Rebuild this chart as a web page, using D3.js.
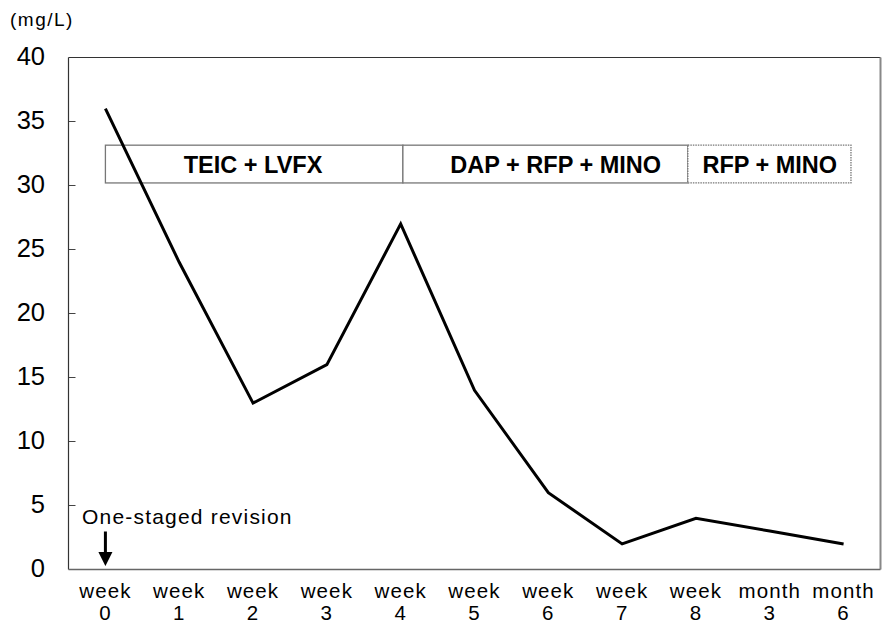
<!DOCTYPE html>
<html lang="en">
<head>
    <meta charset="UTF-8">
    <title>Serum level over time</title>
    <script src="https://d3js.org/d3.v7.min.js"></script>
    <style>
        body { margin: 0; background: #fff; }
        text { font-family: "Liberation Sans", Arial, sans-serif; fill: #000; }
        .tick-y { font-size: 25.5px; }
        .tick-x { font-size: 20.5px; letter-spacing: 1.1px; }
        .regimen { font-size: 23.5px; font-weight: bold; }
        .note { font-size: 21px; letter-spacing: 1.2px; }
        .unit { font-size: 19px; letter-spacing: 1.5px; }
    </style>
</head>
<body>
    <svg width="885" height="625"></svg>
    <script>
        // categories (two-line tick labels)
        const periods = ["week 0", "week 1", "week 2", "week 3", "week 4", "week 5",
                         "week 6", "week 7", "week 8", "month 3", "month 6"];
        const levels = [36, 24, 13, 16, 27, 14, 6, 2, 4, 3, 2];
        const yTicks = [0, 5, 10, 15, 20, 25, 30, 35, 40];

        // treatment bars: start / end in category index units, label centre
        const regimens = ["TEIC + LVFX", "DAP + RFP + MINO", "RFP + MINO"];
        const regStart = [0, 4.03, 7.89];
        const regEnd = [4.03, 7.89, 10.1];
        const regLabelAt = [2.0, 6.1, 9.0];
        const regDotted = [false, false, true];
        const regLow = 30.2, regHigh = 33.15;

        const m = { left: 68.5, right: 880.5, top: 57.5, bottom: 569.5 };

        const svg = d3.select("svg");

        const x = d3.scalePoint()
            .domain(periods)
            .range([m.left, m.right])
            .padding(0.5);
        const step = x.step();
        const xi = i => x(periods[0]) + i * step; // index -> px

        const y = d3.scaleLinear()
            .domain([0, 40])
            .range([m.bottom, m.top]);

        // y ticks (inward)
        svg.append("g")
            .selectAll("line")
            .data(yTicks.filter(d => d > 0 && d < 40))
            .enter().append("line")
            .attr("x1", m.left).attr("x2", m.left + 7)
            .attr("y1", d => y(d)).attr("y2", d => y(d))
            .attr("stroke", "#444").attr("stroke-width", 1);

        svg.append("g")
            .selectAll("text")
            .data(yTicks)
            .enter().append("text")
            .attr("class", "tick-y")
            .attr("x", 45)
            .attr("y", d => y(d) + 7.5)
            .attr("text-anchor", "end")
            .text(d => d);

        // x labels, two rows
        const xg = svg.append("g");
        xg.selectAll("text.top")
            .data(periods)
            .enter().append("text")
            .attr("class", "tick-x top")
            .attr("text-anchor", "middle")
            .attr("x", d => x(d))
            .attr("y", 598)
            .text(d => d.split(" ")[0]);
        xg.selectAll("text.bot")
            .data(periods)
            .enter().append("text")
            .attr("class", "tick-x bot")
            .attr("text-anchor", "middle")
            .attr("x", d => x(d))
            .attr("y", 620)
            .text(d => d.split(" ")[1]);

        // unit
        svg.append("text")
            .attr("class", "unit")
            .attr("x", 10)
            .attr("y", 26)
            .text("(mg/L)");

        // regimen bars
        const reg = svg.append("g")
            .selectAll("g")
            .data(regimens)
            .enter().append("g");
        reg.append("rect")
            .attr("x", (d, i) => xi(regStart[i]))
            .attr("width", (d, i) => xi(regEnd[i]) - xi(regStart[i]))
            .attr("y", y(regHigh))
            .attr("height", y(regLow) - y(regHigh))
            .attr("fill", "#fff")
            .attr("stroke", "#777")
            .attr("stroke-width", 1.3)
            .attr("stroke-dasharray", (d, i) => regDotted[i] ? "1.5,1" : null);
        reg.append("text")
            .attr("class", "regimen")
            .attr("x", (d, i) => xi(regLabelAt[i]))
            .attr("y", (y(regLow) + y(regHigh)) / 2 + 8.5)
            .attr("text-anchor", "middle")
            .text(d => d);

        // frame
        svg.append("line")
            .attr("x1", m.left).attr("x2", m.right).attr("y1", m.top).attr("y2", m.top)
            .attr("stroke", "#333").attr("stroke-width", 1.2);
        svg.append("line")
            .attr("x1", m.left).attr("x2", m.left).attr("y1", m.top).attr("y2", m.bottom)
            .attr("stroke", "#333").attr("stroke-width", 1.2);
        svg.append("line")
            .attr("x1", m.right).attr("x2", m.right).attr("y1", m.top).attr("y2", m.bottom)
            .attr("stroke", "#888").attr("stroke-width", 2);
        svg.append("line")
            .attr("x1", m.left).attr("x2", m.right).attr("y1", m.bottom).attr("y2", m.bottom)
            .attr("stroke", "#666").attr("stroke-width", 1.6);

        // series line
        const line = d3.line()
            .x((d, i) => x(periods[i]))
            .y(d => y(d));
        svg.append("path")
            .datum(levels)
            .attr("d", line)
            .attr("fill", "none")
            .attr("stroke", "#000")
            .attr("stroke-width", 3)
            .attr("stroke-linejoin", "miter");

        // annotation
        svg.append("text")
            .attr("class", "note")
            .attr("x", 82)
            .attr("y", 524)
            .text("One-staged revision");
        const ax = x(periods[0]);
        svg.append("line")
            .attr("x1", ax).attr("x2", ax)
            .attr("y1", 531.5).attr("y2", 553)
            .attr("stroke", "#000").attr("stroke-width", 3);
        svg.append("path")
            .attr("d", `M${ax - 7},552 L${ax + 7},552 L${ax},566 Z`)
            .attr("fill", "#000");
    </script>
</body>
</html>
